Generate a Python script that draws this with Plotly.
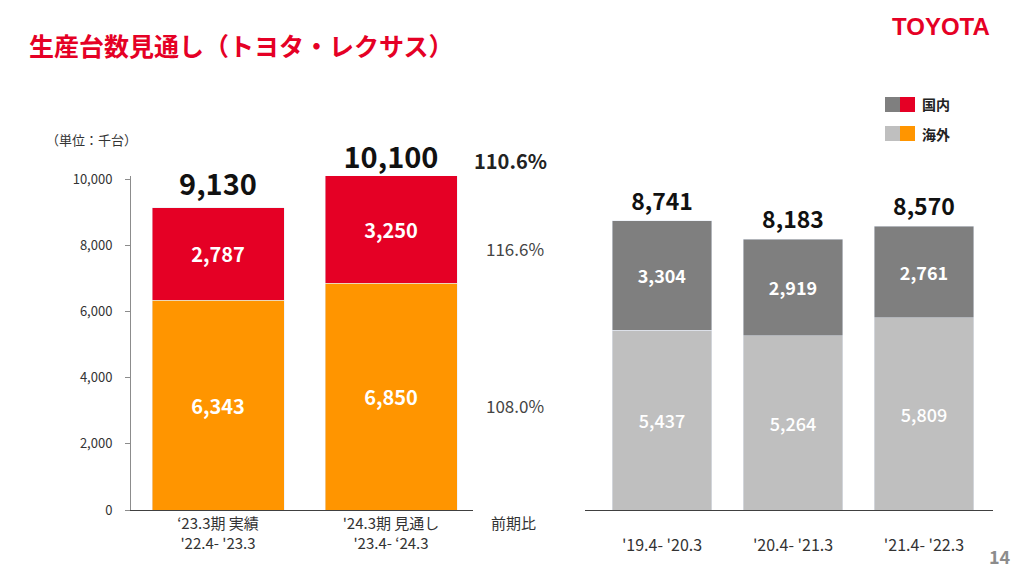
import plotly.graph_objects as go

# ---------------- data ----------------
left_categories = ["‘23.3期 実績<br>'22.4- '23.3", "'24.3期 見通し<br>'23.4- ‘24.3"]
left_overseas = [6343, 6850]
left_domestic = [2787, 3250]
left_totals = [9130, 10100]

right_categories = ["<br>'19.4- '20.3", "<br>'20.4- '21.3", "<br>'21.4- '22.3"]
right_overseas = [5437, 5264, 5809]
right_domestic = [3304, 2919, 2761]
right_totals = [8741, 8183, 8570]

yoy_labels = ["110.6%", "116.6%", "108.0%"]
y_ticks = [0, 2000, 4000, 6000, 8000, 10000]
y_max = 10100

# ---------------- style ----------------
RED = "#E50025"
ORANGE = "#FF9500"
DGRAY = "#7F7F7F"
LGRAY = "#BFBFBF"
FONT = "Noto Sans CJK JP"
OFF = 8                      # page body margin
W, H = 1024 - 2 * OFF, 576 - 2 * OFF


def px(x):
    return (x - OFF) / W


def py(y):
    return 1 - (y - OFF) / H


fig = go.Figure()

fmt = lambda v: f"{v:,}"

fig.add_trace(go.Bar(x=left_categories, y=left_overseas, marker_color=ORANGE,
                     text=[fmt(v) for v in left_overseas], textposition="inside",
                     insidetextanchor="middle",
                     textfont=dict(color="white", size=20, family=FONT, weight="bold"),
                     xaxis="x", yaxis="y", hoverinfo="skip"))
fig.add_trace(go.Bar(x=left_categories, y=left_domestic, marker_color=RED,
                     text=[fmt(v) for v in left_domestic], textposition="inside",
                     insidetextanchor="middle",
                     textfont=dict(color="white", size=20, family=FONT, weight="bold"),
                     xaxis="x", yaxis="y", hoverinfo="skip"))
fig.add_trace(go.Scatter(x=left_categories, y=left_totals, mode="markers+text",
                         marker=dict(size=[8, 0], opacity=0), cliponaxis=False,
                         text=[fmt(v) for v in left_totals], textposition="top center",
                         textfont=dict(color="#111111", size=29, family=FONT, weight="bold"),
                         xaxis="x", yaxis="y", hoverinfo="skip"))

fig.add_trace(go.Bar(x=right_categories, y=right_overseas, marker_color=LGRAY,
                     text=[fmt(v) for v in right_overseas], textposition="inside",
                     insidetextanchor="middle",
                     textfont=dict(color="white", size=18, family=FONT, weight=500),
                     xaxis="x2", yaxis="y2", hoverinfo="skip"))
fig.add_trace(go.Bar(x=right_categories, y=right_domestic, marker_color=DGRAY,
                     text=[fmt(v) for v in right_domestic], textposition="inside",
                     insidetextanchor="middle",
                     textfont=dict(color="white", size=18, family=FONT, weight="bold"),
                     xaxis="x2", yaxis="y2", hoverinfo="skip"))
fig.add_trace(go.Scatter(x=right_categories, y=right_totals, mode="markers+text",
                         marker=dict(size=7, opacity=0), cliponaxis=False,
                         text=[fmt(v) for v in right_totals], textposition="top center",
                         textfont=dict(color="#111111", size=23, family=FONT, weight="bold"),
                         xaxis="x2", yaxis="y2", hoverinfo="skip"))

# 10,000 sits at pixel 179, 0 at pixel 510
top_px = 510 - (510 - 179) * y_max / 10000
ydom = [py(510), py(top_px)]

fig.update_layout(
    width=W, height=H,
    margin=dict(l=0, r=0, t=0, b=0, autoexpand=False),
    paper_bgcolor="white", plot_bgcolor="white",
    barmode="stack", bargap=0.237,
    showlegend=False,
    font=dict(family=FONT, color="#333333"),
    xaxis=dict(domain=[px(131), px(473)], range=[-0.503, 1.474], automargin=False,
               showline=True, linecolor="#404040", linewidth=1,
               ticks="", showgrid=False, zeroline=False,
               tickfont=dict(size=15, color="#333333", family=FONT), fixedrange=True),
    yaxis=dict(domain=ydom, range=[0, y_max], tickvals=y_ticks, automargin=False,
               tickformat=",", showline=True, linecolor="#8C8C8C", linewidth=1,
               ticks="outside", ticklen=5, tickcolor="#8C8C8C", ticklabelstandoff=10,
               showgrid=False, zeroline=False,
               tickfont=dict(size=13, color="#333333", family=FONT), fixedrange=True),
    xaxis2=dict(domain=[px(585), px(993)], range=[-0.588, 2.527], anchor="y2",
                automargin=False,
                showline=True, linecolor="#404040", linewidth=1,
                ticks="", showgrid=False, zeroline=False,
                tickfont=dict(size=16, color="#333333", family=FONT), fixedrange=True),
    yaxis2=dict(domain=ydom, range=[0, y_max], anchor="x2", automargin=False,
                showline=False, showticklabels=False, showgrid=False,
                zeroline=False, fixedrange=True),
)

annotations = [
    dict(text="生産台数見通し（トヨタ・レクサス）", x=px(27), y=py(45),
         xanchor="left", yanchor="middle",
         font=dict(size=25, color=RED, family=FONT, weight="bold")),
    dict(text="TOYOTA", x=px(992), y=py(27), xanchor="right", yanchor="middle",
         font=dict(size=24, color=RED, family="Liberation Sans", weight="bold")),
    dict(text="（単位：千台）", x=px(44), y=py(139), xanchor="left", yanchor="middle",
         font=dict(size=13, color="#333333", family=FONT)),
    dict(text=yoy_labels[0], x=px(510), y=py(161), xanchor="center", yanchor="middle",
         font=dict(size=20, color="#222222", family=FONT, weight="bold")),
    dict(text=yoy_labels[1], x=px(515), y=py(248), xanchor="center", yanchor="middle",
         font=dict(size=17, color="#444444", family=FONT)),
    dict(text=yoy_labels[2], x=px(515), y=py(405), xanchor="center", yanchor="middle",
         font=dict(size=17, color="#444444", family=FONT)),
    dict(text="前期比", x=px(513), y=py(522), xanchor="center", yanchor="middle",
         font=dict(size=15, color="#333333", family=FONT)),
    dict(text="国内", x=px(920), y=py(104), xanchor="left", yanchor="middle",
         font=dict(size=14, color="#222222", family=FONT, weight="bold")),
    dict(text="海外", x=px(920), y=py(134), xanchor="left", yanchor="middle",
         font=dict(size=14, color="#222222", family=FONT, weight="bold")),
    dict(text="14", x=px(1000), y=py(556), xanchor="center", yanchor="middle",
         font=dict(size=18, color="#8C8C8C", family=FONT, weight="bold")),
]
for a in annotations:
    a.update(xref="paper", yref="paper", showarrow=False)
fig.update_layout(annotations=annotations)

# legend swatches
swatches = [(885, 97, DGRAY), (900, 97, RED), (885, 126, LGRAY), (900, 126, ORANGE)]
shapes = []
for x0, y0, c in swatches:
    shapes.append(dict(type="rect", xref="paper", yref="paper",
                       x0=px(x0), x1=px(x0 + 15), y0=py(y0 + 15), y1=py(y0),
                       fillcolor=c, line=dict(width=0)))
fig.update_layout(shapes=shapes)

fig.write_html("out.html")
